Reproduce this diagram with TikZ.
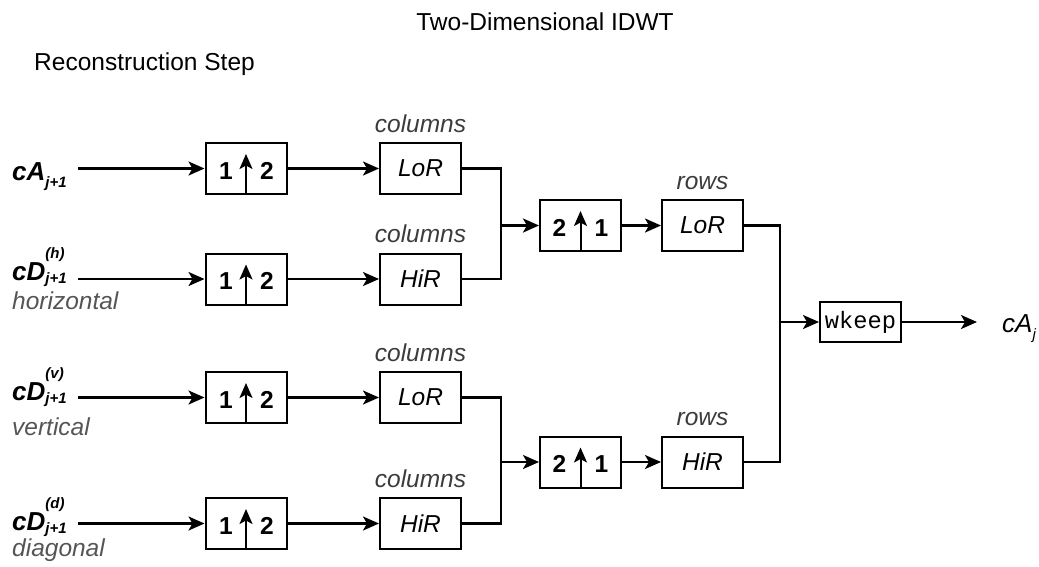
\documentclass[tikz,border=0pt]{standalone}
\usepackage{fontspec}
\setmainfont{Liberation Sans}
\setmonofont{Liberation Mono}
\usetikzlibrary{arrows.meta,calc}
\definecolor{lblgray}{RGB}{60,60,60}
\definecolor{sidegray}{RGB}{85,85,85}
\newcommand{\mainsz}{\fontsize{24.5}{28}\selectfont}
\newcommand{\subsz}{\fontsize{15}{17}\selectfont}
\newcommand{\mycA}[1]{cA\raisebox{-7pt}{\subsz #1}}
\newcommand{\mycD}[1]{cD\rlap{\raisebox{22pt}{\subsz(#1)}}\raisebox{-3pt}{\subsz j+1}}
\begin{document}
\begin{tikzpicture}[x=1pt,y=-1pt,
  box/.style={draw, line width=2pt, minimum width=81pt, minimum height=51pt, inner sep=0pt},
  filt/.style={box, font=\mainsz\itshape},
  boxlbl/.style={font=\mainsz\itshape, text=lblgray, anchor=base, inner sep=0pt},
  sidelbl/.style={font=\mainsz\itshape, text=sidegray, anchor=base west, inner sep=0pt},
  inlbl/.style={font=\fontsize{26}{30}\selectfont\bfseries\itshape, anchor=base west, inner sep=0pt},
  digit/.style={font=\mainsz\bfseries, anchor=base, inner sep=0pt},
  conn/.style={line width=2.2pt},
  arr/.style={conn, -{Stealth[length=16pt,width=14pt,inset=4pt]}},
  uparr/.style={line width=2pt, -{Stealth[length=15pt,width=13pt,inset=3.5pt]}},
  ]
\useasboundingbox (0,0) rectangle (1039,566);

% titles
\node[font=\mainsz, anchor=base, inner sep=0pt] (title) at (545,30) {Two-Dimensional IDWT};
\node[font=\mainsz, anchor=base west, inner sep=0pt] (sub) at (34,70) {Reconstruction Step};

% input labels
\node[inlbl] (lA) at (12,180) {\mycA{j+1}};
\node[inlbl] (lH) at (12,280) {\mycD{h}};
\node[inlbl] (lV) at (12,400) {\mycD{v}};
\node[inlbl] (lD) at (12,530) {\mycD{d}};
\node[sidelbl] (tH) at (12,309) {horizontal};
\node[sidelbl] (tV) at (12,435) {vertical};
\node[sidelbl] (tD) at (12,556) {diagonal};

% input arrow starts
\coordinate (s1) at (78,168.5);
\coordinate (s2) at (78,279);
\coordinate (s3) at (78,397.5);
\coordinate (s4) at (78,523.5);

% upsample boxes
\foreach \i/\y in {1/168.5,2/279,3/397.5,4/523.5}{
  \node[box] (u\i) at (246,\y) {};
  \draw[uparr] (u\i.south) -- ++(0,-41);
  \node[digit] (ua\i) at ($(u\i.center)+(-20,10.5)$) {1};
  \node[digit] (ub\i) at ($(u\i.center)+(21,10.5)$) {2};
}

% column filters
\node[filt] (f1) at (420.5,168.5) {LoR};
\node[filt] (f2) at (420.5,279) {HiR};
\node[filt] (f3) at (420.5,397.5) {LoR};
\node[filt] (f4) at (420.5,523.5) {HiR};
\foreach \i in {1,2,3,4}{
  \node[boxlbl] (cl\i) at ($(f\i.north)+(0,-10)$) {columns};
}

% row upsample boxes
\foreach \i/\y in {1/225.5,2/462}{
  \node[box] (d\i) at (580.5,\y) {};
  \draw[uparr] (d\i.south) -- ++(0,-41);
  \node[digit] (da\i) at ($(d\i.center)+(-21,10.5)$) {2};
  \node[digit] (db\i) at ($(d\i.center)+(21,10.5)$) {1};
}

% row filters
\node[filt] (r1) at (702.5,225.5) {LoR};
\node[filt] (r2) at (702.5,462) {HiR};
\node[boxlbl] (rl1) at ($(r1.north)+(0,-10)$) {rows};
\node[boxlbl] (rl2) at ($(r2.north)+(0,-10)$) {rows};

% wkeep
\node[draw, line width=2pt, minimum width=81pt, minimum height=40pt, inner sep=0pt,
      font=\fontsize{23.7}{26}\selectfont\ttfamily] (wk) at (860.5,322) {wkeep};
\coordinate (out) at (977,322);
\node[inlbl, font=\fontsize{26}{30}\selectfont\itshape] (lOut) at (1002,332) {\mycA{j}};

% merge points
\coordinate (m1) at (501,225.5);
\coordinate (m2) at (501,462);
\coordinate (j) at (780,322);

% connectors
\foreach \i in {1,2,3,4}{
  \draw[arr] (s\i) -- (u\i.west);
  \draw[arr] (u\i.east) -- (f\i.west);
}
\draw[conn] (f1.east) -| (m1);
\draw[conn] (f2.east) -| (m1);
\draw[arr, line width=2.8pt] (m1) -- (d1.west);
\draw[conn] (f3.east) -| (m2);
\draw[conn] (f4.east) -| (m2);
\draw[arr] (m2) -- (d2.west);
\draw[arr] (d1.east) -- (r1.west);
\draw[arr] (d2.east) -- (r2.west);
\draw[conn] (r1.east) -| (j);
\draw[conn] (r2.east) -| (j);
\draw[arr] (j) -- (wk.west);
\draw[arr] (wk.east) -- (out);
\end{tikzpicture}
\end{document}
